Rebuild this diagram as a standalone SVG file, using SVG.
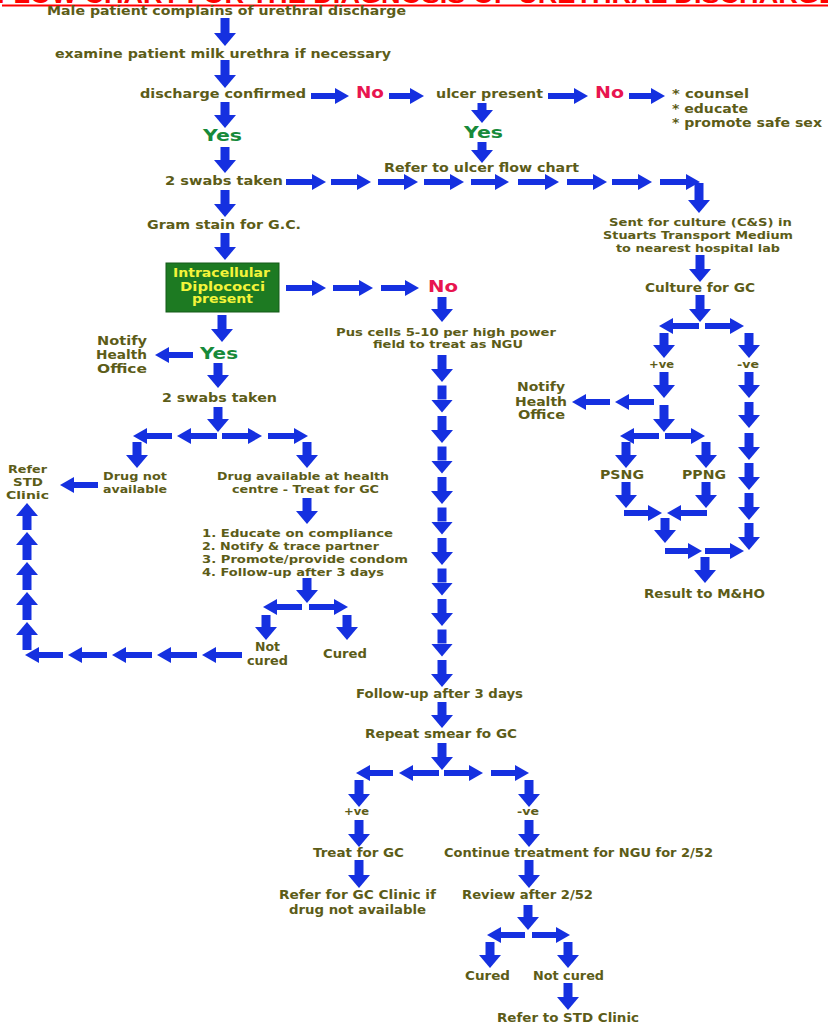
<svg xmlns="http://www.w3.org/2000/svg" width="828" height="1026" viewBox="0 0 828 1026">
<style>
.t{font-family:"DejaVu Sans","Liberation Sans",sans-serif;font-weight:bold;font-size:13px;fill:#5c5c18}
.s{font-size:11.5px}
.m{font-size:11px}
.yes{fill:#178a3a;font-size:15.5px}
.no{fill:#e8154f;font-size:15.5px}
.bx{fill:#f4f43a;font-size:12px}
.ttl{font-family:"Liberation Sans",Arial,sans-serif;font-weight:bold;font-size:26px;fill:#ff0000}
.v{stroke:#1530e0;stroke-width:9;fill:none;marker-end:url(#mv)}
.h{stroke:#1530e0;stroke-width:6;fill:none;marker-end:url(#mh)}
</style>
<defs>
<marker id="mv" markerUnits="userSpaceOnUse" markerWidth="13" markerHeight="22" refX="0" refY="11" orient="auto"><path d="M0,0L13,11L0,22Z" fill="#1530e0"/></marker>
<marker id="mh" markerUnits="userSpaceOnUse" markerWidth="14" markerHeight="16" refX="0" refY="8" orient="auto"><path d="M0,0L14,8L0,16Z" fill="#1530e0"/></marker>
</defs>
<rect width="828" height="1026" fill="#ffffff"/>
<g id="title">
<text class="ttl" x="-3" y="3" textLength="840" lengthAdjust="spacingAndGlyphs">FLOW CHART FOR THE DIAGNOSIS OF URETHRAL DISCHARGE</text>
<line x1="2" y1="5.5" x2="828" y2="5.5" stroke="#ff0000" stroke-width="2"/>
</g>
<g id="connectors">
<path class="v" d="M225 18V33"/><path class="v" d="M225 60V75"/><path class="v" d="M225 102V115"/><path class="v" d="M225 147V160"/><path class="v" d="M225 190V204"/><path class="v" d="M225 233V247"/>
<path class="v" d="M482 103V110"/><path class="v" d="M482 142V150"/><path class="v" d="M699 183V200"/><path class="v" d="M700 255V269"/><path class="v" d="M700 295V309"/>
<path class="v" d="M664 333V345"/><path class="v" d="M749 333V345"/><path class="v" d="M664 372V385"/><path class="v" d="M664 405V419"/><path class="v" d="M626 442V455"/><path class="v" d="M706 442V455"/><path class="v" d="M626 482V495"/><path class="v" d="M706 482V495"/><path class="v" d="M665 518V530"/><path class="v" d="M705 557V570"/>
<path class="v" d="M749 372V385"/><path class="v" d="M749 402V415"/><path class="v" d="M749 433V447"/><path class="v" d="M749 463V477"/><path class="v" d="M749 493V507"/><path class="v" d="M749 523V537"/>
<path class="v" d="M442 297V309"/><path class="v" d="M442 355V369"/><path class="v" d="M442 385.5V399.5"/><path class="v" d="M442 416V430"/><path class="v" d="M442 446.5V460.5"/><path class="v" d="M442 477V491"/><path class="v" d="M442 507.5V521.5"/><path class="v" d="M442 538V552"/><path class="v" d="M442 568.5V582.5"/><path class="v" d="M442 599V613"/><path class="v" d="M442 629.5V643.5"/><path class="v" d="M442 660V674"/><path class="v" d="M442 702V715"/><path class="v" d="M442 743V757"/>
<path class="v" d="M359 780V794"/><path class="v" d="M359 820V834"/><path class="v" d="M359 860V875"/><path class="v" d="M529 780V794"/><path class="v" d="M529 820V834"/><path class="v" d="M529 860V875"/><path class="v" d="M528 905V917"/><path class="v" d="M490 942V955"/><path class="v" d="M568 942V955"/><path class="v" d="M568 983V997"/>
<path class="v" d="M222 315V329"/><path class="v" d="M218 363V375"/><path class="v" d="M218 407V419"/><path class="v" d="M137 442V455"/><path class="v" d="M307 442V455"/><path class="v" d="M307 498V511"/><path class="v" d="M307 578V590"/><path class="v" d="M266 615V627"/><path class="v" d="M347 615V627"/>
<path class="v" d="M27 530V516"/><path class="v" d="M27 560V545"/><path class="v" d="M27 590V575"/><path class="v" d="M27 620V605"/><path class="v" d="M27 650V635"/>
<path class="h" d="M311 96H335"/><path class="h" d="M389 96H410"/><path class="h" d="M548 96H574"/><path class="h" d="M629 96H651"/>
<path class="h" d="M286 182H312"/><path class="h" d="M331 182H357"/><path class="h" d="M378 182H404"/><path class="h" d="M424 182H450"/><path class="h" d="M471 182H495"/><path class="h" d="M518 182H545"/><path class="h" d="M567 182H593"/><path class="h" d="M612 182H638"/><path class="h" d="M660 182H686"/>
<path class="h" d="M286 288H312"/><path class="h" d="M333 288H359"/><path class="h" d="M381 288H405"/><path class="h" d="M193 355H169"/>
<path class="h" d="M217 436H191"/><path class="h" d="M172 436H147"/><path class="h" d="M222 436H248"/><path class="h" d="M268 436H294"/><path class="h" d="M98 485H74"/><path class="h" d="M302 607H277"/><path class="h" d="M309 607H334"/>
<path class="h" d="M242 655H216"/><path class="h" d="M197 655H171"/><path class="h" d="M152 655H126"/><path class="h" d="M107 655H82"/><path class="h" d="M63 655H39"/>
<path class="h" d="M699 326H673"/><path class="h" d="M705 326H730"/><path class="h" d="M654 402H629"/><path class="h" d="M610 402H586"/><path class="h" d="M659 436H634"/><path class="h" d="M665 436H691"/><path class="h" d="M624 513H648"/><path class="h" d="M707 513H681"/><path class="h" d="M665 551H688"/><path class="h" d="M705 551H730"/>
<path class="h" d="M393 773H370"/><path class="h" d="M439 773H413"/><path class="h" d="M444 773H469"/><path class="h" d="M491 773H515"/><path class="h" d="M525 935H501"/><path class="h" d="M532 935H556"/>
</g>
<g id="n-male"><text class="t" x="47" y="14.5" textLength="359" lengthAdjust="spacingAndGlyphs">Male patient complains of urethral discharge</text></g>
<g id="n-examine"><text class="t" x="55" y="57.5" textLength="336" lengthAdjust="spacingAndGlyphs">examine patient milk urethra if necessary</text></g>
<g id="n-confirmed"><text class="t" x="140" y="98" textLength="166" lengthAdjust="spacingAndGlyphs">discharge confirmed</text></g>
<g id="n-no1"><text class="t no" x="356" y="98" textLength="28" lengthAdjust="spacingAndGlyphs">No</text></g>
<g id="n-ulcer"><text class="t" x="436" y="98" textLength="107" lengthAdjust="spacingAndGlyphs">ulcer present</text></g>
<g id="n-no2"><text class="t no" x="595" y="98" textLength="29" lengthAdjust="spacingAndGlyphs">No</text></g>
<g id="n-counsel">
<text class="t s" x="672" y="98" textLength="77" lengthAdjust="spacingAndGlyphs">* counsel</text>
<text class="t s" x="672" y="112.5" textLength="76" lengthAdjust="spacingAndGlyphs">* educate</text>
<text class="t s" x="672" y="126.5" textLength="150" lengthAdjust="spacingAndGlyphs">* promote safe sex</text>
</g>
<g id="n-yes-ulcer"><text class="t yes" x="464" y="137.5" textLength="39" lengthAdjust="spacingAndGlyphs">Yes</text></g>
<g id="n-yes1"><text class="t yes" x="203" y="140.5" textLength="39" lengthAdjust="spacingAndGlyphs">Yes</text></g>
<g id="n-refer-ulcer"><text class="t" x="384" y="171.5" textLength="195" lengthAdjust="spacingAndGlyphs">Refer to ulcer flow chart</text></g>
<g id="n-swabs1"><text class="t" x="165" y="185" textLength="118" lengthAdjust="spacingAndGlyphs">2 swabs taken</text></g>
<g id="n-gram"><text class="t" x="147" y="229" textLength="154" lengthAdjust="spacingAndGlyphs">Gram stain for G.C.</text></g>
<g id="n-sent">
<text class="t m" x="609" y="226" textLength="183" lengthAdjust="spacingAndGlyphs">Sent for culture (C&amp;S) in</text>
<text class="t m" x="603" y="239" textLength="190" lengthAdjust="spacingAndGlyphs">Stuarts Transport Medium</text>
<text class="t m" x="616" y="251.5" textLength="164" lengthAdjust="spacingAndGlyphs">to nearest hospital lab</text>
</g>
<g id="n-culture"><text class="t" x="645" y="292" textLength="110" lengthAdjust="spacingAndGlyphs">Culture for GC</text></g>
<g id="n-diplococci">
<rect x="166" y="263" width="113" height="49" fill="#1d7a22" stroke="#145a18" stroke-width="1"/>
<text class="t bx" x="173" y="276.5" textLength="97" lengthAdjust="spacingAndGlyphs">Intracellular</text>
<text class="t bx" x="180" y="290.5" textLength="85" lengthAdjust="spacingAndGlyphs">Diplococci</text>
<text class="t bx" x="192" y="303" textLength="61" lengthAdjust="spacingAndGlyphs">present</text>
</g>
<g id="n-no3"><text class="t no" x="428" y="292" textLength="30" lengthAdjust="spacingAndGlyphs">No</text></g>
<g id="n-pus">
<text class="t m" x="336" y="336" textLength="220" lengthAdjust="spacingAndGlyphs">Pus cells 5-10 per high power</text>
<text class="t m" x="373" y="348" textLength="150" lengthAdjust="spacingAndGlyphs">field to treat as NGU</text>
</g>
<g id="n-notify1">
<text class="t s" x="97" y="345" textLength="50" lengthAdjust="spacingAndGlyphs">Notify</text>
<text class="t s" x="96" y="359" textLength="51" lengthAdjust="spacingAndGlyphs">Health</text>
<text class="t s" x="97" y="373" textLength="50" lengthAdjust="spacingAndGlyphs">Office</text>
</g>
<g id="n-yes2"><text class="t yes" x="200" y="359" textLength="38" lengthAdjust="spacingAndGlyphs">Yes</text></g>
<g id="n-pos1"><text class="t m" x="649" y="368" textLength="25" lengthAdjust="spacingAndGlyphs">+ve</text></g>
<g id="n-neg1"><text class="t m" x="737" y="368" textLength="22" lengthAdjust="spacingAndGlyphs">-ve</text></g>
<g id="n-notify2">
<text class="t s" x="517" y="391" textLength="48" lengthAdjust="spacingAndGlyphs">Notify</text>
<text class="t s" x="515" y="405.5" textLength="52" lengthAdjust="spacingAndGlyphs">Health</text>
<text class="t s" x="518" y="419" textLength="47" lengthAdjust="spacingAndGlyphs">Office</text>
</g>
<g id="n-swabs2"><text class="t" x="162" y="401.5" textLength="115" lengthAdjust="spacingAndGlyphs">2 swabs taken</text></g>
<g id="n-psng"><text class="t" x="600" y="479" textLength="44" lengthAdjust="spacingAndGlyphs">PSNG</text></g>
<g id="n-ppng"><text class="t" x="682" y="479" textLength="44" lengthAdjust="spacingAndGlyphs">PPNG</text></g>
<g id="n-drugnot">
<text class="t m" x="103" y="480" textLength="64" lengthAdjust="spacingAndGlyphs">Drug not</text>
<text class="t m" x="103" y="492.5" textLength="64" lengthAdjust="spacingAndGlyphs">available</text>
</g>
<g id="n-drugavail">
<text class="t m" x="217" y="480" textLength="172" lengthAdjust="spacingAndGlyphs">Drug available at health</text>
<text class="t m" x="232" y="492.5" textLength="147" lengthAdjust="spacingAndGlyphs">centre - Treat for GC</text>
</g>
<g id="n-referstd1">
<text class="t m" x="8" y="473" textLength="39" lengthAdjust="spacingAndGlyphs">Refer</text>
<text class="t m" x="13" y="486" textLength="30" lengthAdjust="spacingAndGlyphs">STD</text>
<text class="t m" x="6" y="499" textLength="43" lengthAdjust="spacingAndGlyphs">Clinic</text>
</g>
<g id="n-list">
<text class="t m" x="202" y="536.5" textLength="191" lengthAdjust="spacingAndGlyphs">1. Educate on compliance</text>
<text class="t m" x="202" y="549.5" textLength="177" lengthAdjust="spacingAndGlyphs">2. Notify &amp; trace partner</text>
<text class="t m" x="202" y="562.5" textLength="206" lengthAdjust="spacingAndGlyphs">3. Promote/provide condom</text>
<text class="t m" x="202" y="575.5" textLength="182" lengthAdjust="spacingAndGlyphs">4. Follow-up after 3 days</text>
</g>
<g id="n-result"><text class="t" x="644" y="598" textLength="121" lengthAdjust="spacingAndGlyphs">Result to M&amp;HO</text></g>
<g id="n-notcured1">
<text class="t s" x="255" y="651" textLength="25" lengthAdjust="spacingAndGlyphs">Not</text>
<text class="t s" x="247" y="665" textLength="41" lengthAdjust="spacingAndGlyphs">cured</text>
</g>
<g id="n-cured1"><text class="t" x="323" y="658" textLength="44" lengthAdjust="spacingAndGlyphs">Cured</text></g>
<g id="n-followup"><text class="t" x="356" y="698" textLength="167" lengthAdjust="spacingAndGlyphs">Follow-up after 3 days</text></g>
<g id="n-repeat"><text class="t" x="365" y="738" textLength="152" lengthAdjust="spacingAndGlyphs">Repeat smear fo GC</text></g>
<g id="n-pos2"><text class="t m" x="344" y="815" textLength="25" lengthAdjust="spacingAndGlyphs">+ve</text></g>
<g id="n-neg2"><text class="t m" x="517" y="815" textLength="22" lengthAdjust="spacingAndGlyphs">-ve</text></g>
<g id="n-treatgc"><text class="t" x="313" y="856.5" textLength="91" lengthAdjust="spacingAndGlyphs">Treat for GC</text></g>
<g id="n-continue"><text class="t" x="444" y="856.5" textLength="269" lengthAdjust="spacingAndGlyphs">Continue treatment for NGU for 2/52</text></g>
<g id="n-refergc">
<text class="t s" x="279" y="899" textLength="157" lengthAdjust="spacingAndGlyphs">Refer for GC Clinic if</text>
<text class="t s" x="289" y="913.5" textLength="137" lengthAdjust="spacingAndGlyphs">drug not available</text>
</g>
<g id="n-review"><text class="t" x="462" y="899" textLength="131" lengthAdjust="spacingAndGlyphs">Review after 2/52</text></g>
<g id="n-cured2"><text class="t" x="465" y="980" textLength="45" lengthAdjust="spacingAndGlyphs">Cured</text></g>
<g id="n-notcured2"><text class="t" x="533" y="979.5" textLength="71" lengthAdjust="spacingAndGlyphs">Not cured</text></g>
<g id="n-referstd2"><text class="t" x="497" y="1021.5" textLength="142" lengthAdjust="spacingAndGlyphs">Refer to STD Clinic</text></g>
</svg>
